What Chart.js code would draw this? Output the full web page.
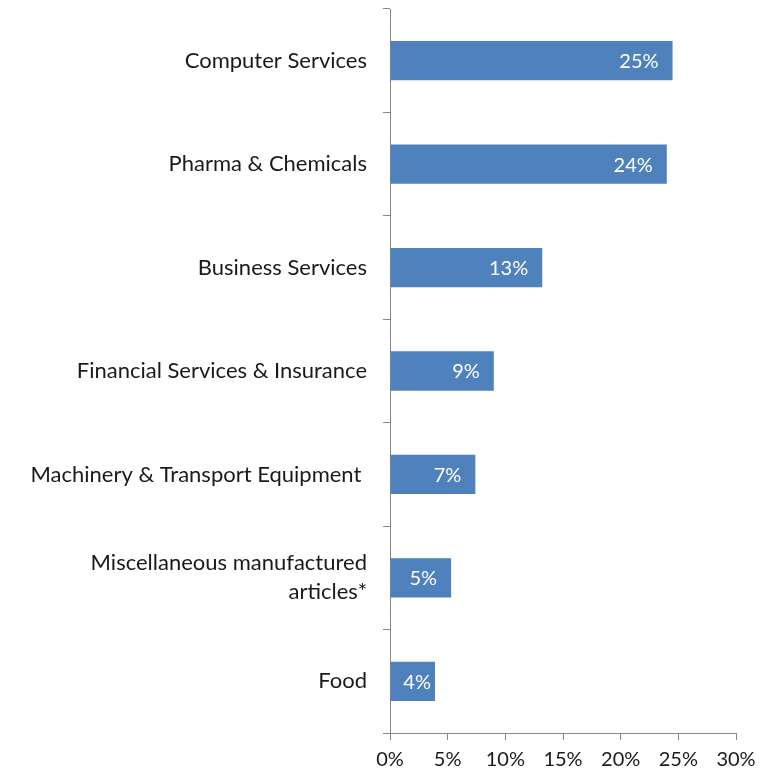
<!DOCTYPE html>
<html>
<head>
<meta charset="utf-8">
<script src="https://cdn.jsdelivr.net/npm/chart.js@4"></script>
<style>
  html, body { margin: 0; padding: 0; background: #fff; }
  #wrap { width: 778px; height: 772px; }
</style>
</head>
<body>
<div id="wrap"><canvas id="sectorChart"></canvas></div>
<script>
var sectors = [
  "Computer Services",
  "Pharma & Chemicals",
  "Business Services",
  "Financial Services & Insurance",
  "Machinery & Transport Equipment ",
  ["Miscellaneous manufactured", "articles*"],
  "Food"
];
var shares = [24.5, 24.0, 13.2, 9.0, 7.4, 5.3, 3.9];
var xTicks = [0, 5, 10, 15, 20, 25, 30];

var FONT = "Lato, 'Open Sans', sans-serif";

// value labels drawn white, right aligned inside the bar end
var barLabels = {
  id: "barLabels",
  afterDatasetsDraw: function (chart) {
    var ctx = chart.ctx;
    var meta = chart.getDatasetMeta(0);
    ctx.save();
    ctx.font = "20px " + FONT;
    ctx.fillStyle = "#fff";
    ctx.textAlign = "right";
    ctx.textBaseline = "middle";
    meta.data.forEach(function (bar, i) {
      var txt = Math.round(shares[i]) + "%";
      var w = ctx.measureText(txt).width;
      var right = Math.max(bar.x - 14, Math.min(bar.x - 4, bar.base + w + 14));
      ctx.fillText(txt, right, bar.y + 1);
    });
    ctx.restore();
  }
};

var ctx = document.getElementById("sectorChart").getContext("2d");
var sectorChart = new Chart(ctx, {
  type: "bar",
  data: {
    labels: sectors,
    datasets: [{
      data: shares,
      backgroundColor: "#4F81BD",
      borderWidth: 0,
      categoryPercentage: 1,
      barPercentage: 0.38
    }]
  },
  options: {
    indexAxis: "y",
    responsive: true,
    maintainAspectRatio: false,
    animation: false,
    layout: { padding: { top: 9, right: 42, left: 0, bottom: 0 } },
    plugins: {
      legend: { display: false },
      tooltip: { enabled: false }
    },
    scales: {
      x: {
        min: 0,
        max: 30,
        afterBuildTicks: function (s) {
          s.ticks = xTicks.map(function (v) { return { value: v }; });
        },
        afterFit: function (s) { s.height = 39; },
        grid: { drawOnChartArea: false, drawTicks: true, tickLength: 7, color: "#868686" },
        border: { color: "#868686", width: 1 },
        ticks: {
          callback: function (v) { return v + "%"; },
          color: "#1a1a1a",
          font: { family: FONT, size: 20 },
          padding: 8,
          maxRotation: 0
        }
      },
      y: {
        afterFit: function (s) {
          s.width = 390;
          s.paddingTop = 0;
          s.paddingBottom = 0;
        },
        grid: { offset: true, drawOnChartArea: false, drawTicks: true, tickLength: 7, color: "#868686" },
        border: { color: "#868686", width: 1 },
        ticks: {
          color: "#1a1a1a",
          font: { family: FONT, size: 22, lineHeight: 1.32 },
          padding: 16
        }
      }
    }
  },
  plugins: [barLabels]
});
</script>
</body>
</html>
